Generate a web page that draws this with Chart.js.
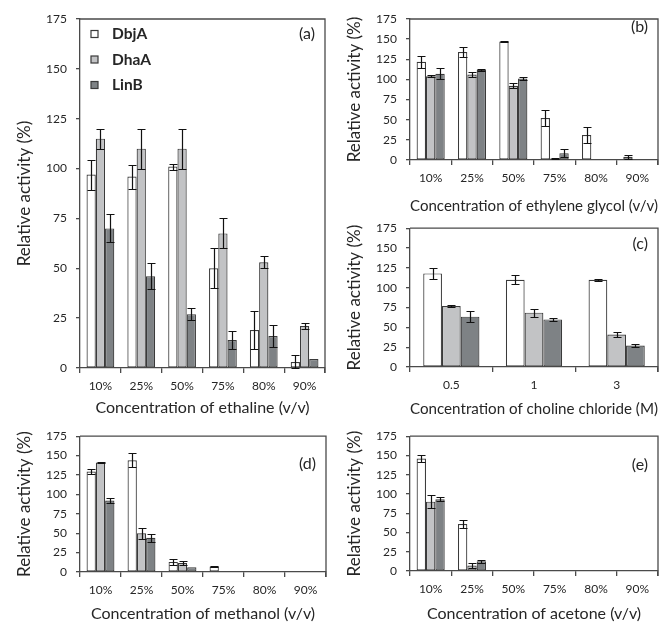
<!DOCTYPE html>
<html>
<head>
<meta charset="utf-8">
<script src="https://cdn.jsdelivr.net/npm/chart.js@4.4.1/dist/chart.umd.min.js"></script>
<style>
  body { margin: 0; background: #fff; width: 670px; height: 623px; position: relative; overflow: hidden; }
  canvas { position: absolute; }
</style>
</head>
<body>
<canvas id="chartA" width="335" height="420" style="left:0;top:0"></canvas>
<canvas id="chartB" width="340" height="218" style="left:330px;top:0"></canvas>
<canvas id="chartC" width="340" height="208" style="left:330px;top:212px"></canvas>
<canvas id="chartD" width="335" height="203" style="left:0;top:420px"></canvas>
<canvas id="chartE" width="340" height="203" style="left:330px;top:420px"></canvas>
<script>
// categories
const percentGroups = ['10%', '25%', '50%', '75%', '80%', '90%'];
const cholineGroups = ['0.5', '1', '3'];
const enzymes = ['DbjA', 'DhaA', 'LinB'];
const yTicks = [0, 25, 50, 75, 100, 125, 150, 175];

// (a) ethaline
const ethalineDbjA = [97, 96, 101, 50, 19, 3];
const ethalineDbjAErr = [7.5, 6, 1.5, 10, 9.5, 3.5];
const ethalineDhaA = [115, 110, 110, 67.5, 53, 21];
const ethalineDhaAErr = [5, 10, 10, 7.5, 3, 1.5];
const ethalineLinB = [70, 46, 27, 14, 16, 4.5];
const ethalineLinBErr = [7, 6.5, 3, 4.5, 5.5, 0];

// (b) ethylene glycol
const glycolDbjA = [122, 134, 147, 52, 31, 4];
const glycolDbjAErr = [7.5, 6.5, 1, 10, 9.5, 2.5];
const glycolDhaA = [104, 106, 92, 2, 0, 0];
const glycolDhaAErr = [1.5, 3.5, 3, 1, 0, 0];
const glycolLinB = [107, 112, 101, 8.5, 0, 0];
const glycolLinBErr = [7, 1.5, 1.5, 5, 0, 0];

// (c) choline chloride
const cholineDbjA = [118, 110, 110];
const cholineDbjAErr = [7, 5.5, 1];
const cholineDhaA = [77, 68.5, 41];
const cholineDhaAErr = [1.5, 5, 3.5];
const cholineLinB = [63.5, 60, 27];
const cholineLinBErr = [7, 1.5, 1.5];

// (d) methanol
const methanolDbjA = [129.5, 144, 13, 7, 0, 0];
const methanolDbjAErr = [3, 9, 4, 1, 0, 0];
const methanolDhaA = [141, 50, 11.5, 0, 0, 0];
const methanolDhaAErr = [1, 7, 3, 0, 0, 0];
const methanolLinB = [92, 44, 6, 0, 0, 0];
const methanolLinBErr = [3, 5, 0, 0, 0, 0];

// (e) acetone
const acetoneDbjA = [146, 61, 0, 0, 0, 0];
const acetoneDbjAErr = [4, 5.5, 0, 0, 0, 0];
const acetoneDhaA = [90, 7, 0, 0, 0, 0];
const acetoneDhaAErr = [8.5, 3.5, 0, 0, 0, 0];
const acetoneLinB = [93, 12.5, 0, 0, 0, 0];
const acetoneLinBErr = [2.5, 1.5, 0, 0, 0, 0];

const FONT = 'Lato, "Open Sans", sans-serif';
const fills = ['#ffffff', '#c2c3c5', '#7e8285'];
const edge = '#3a3a3a';
const axisColor = '#4a4a4a';
const textColor = '#262626';

const errorBars = {
    id: 'errorBars',
    afterDatasetsDraw(chart) {
        const ctx = chart.ctx;
        const y = chart.scales.y;
        ctx.save();
        ctx.strokeStyle = '#111';
        ctx.lineWidth = 1.2;
        chart.data.datasets.forEach((ds, i) => {
            const meta = chart.getDatasetMeta(i);
            meta.data.forEach((bar, j) => {
                const e = ds.errors[j];
                if (!e) return;
                const v = ds.data[j];
                const top = Math.round(y.getPixelForValue(v + e)) + 0.5;
                const bot = Math.round(y.getPixelForValue(Math.max(0, v - e))) + 0.5;
                const x = Math.round(bar.x) + 0.5;
                ctx.beginPath();
                ctx.moveTo(x, top); ctx.lineTo(x, bot);
                ctx.moveTo(x - 4, top); ctx.lineTo(x + 4, top);
                ctx.moveTo(x - 4, bot); ctx.lineTo(x + 4, bot);
                ctx.stroke();
            });
        });
        ctx.restore();
    }
};

// top and right edges of the plot box
const frame = {
    id: 'frame',
    afterDraw(chart) {
        const { ctx, chartArea: a } = chart;
        ctx.save();
        ctx.strokeStyle = axisColor;
        ctx.lineWidth = 1.3;
        ctx.beginPath();
        ctx.moveTo(a.left, a.top); ctx.lineTo(a.right, a.top); ctx.lineTo(a.right, a.bottom + 5);
        ctx.stroke();
        ctx.restore();
    }
};

// panel letter, plus the legend inside panel (a)
const panelTag = {
    id: 'panelTag',
    afterDraw(chart, args, opts) {
        const { ctx, chartArea: a } = chart;
        ctx.save();
        ctx.font = '16px ' + FONT;
        ctx.fillStyle = textColor;
        ctx.textAlign = 'right';
        ctx.textBaseline = 'middle';
        ctx.fillText(opts.text, a.right - 10, a.top + opts.dy);
        if (opts.legend) {
            chart.data.datasets.forEach((ds, i) => {
                const cy = a.top + 15 + i * 25.5;
                ctx.fillStyle = ds.backgroundColor;
                ctx.fillRect(a.left + 11, cy - 3.5, 7, 7);
                ctx.strokeStyle = edge;
                ctx.lineWidth = 1.2;
                ctx.strokeRect(a.left + 11, cy - 3.5, 7, 7);
                ctx.fillStyle = textColor;
                ctx.textAlign = 'left';
                ctx.font = 'bold 15.5px ' + FONT;
                ctx.fillText(ds.label, a.left + 32, cy);
            });
        }
        ctx.restore();
    }
};

function makeChart(id, labels, values, errors, opts) {
    const datasets = enzymes.map((name, i) => ({
        label: name,
        data: values[i],
        errors: errors[i],
        backgroundColor: fills[i],
        borderColor: edge,
        borderWidth: 1.2,
        borderSkipped: false,
        categoryPercentage: 0.68,
        barPercentage: 1
    }));
    return new Chart(document.getElementById(id), {
        type: 'bar',
        data: { labels, datasets },
        plugins: [errorBars, frame, panelTag],
        options: {
            responsive: false,
            animation: false,
            devicePixelRatio: 1,
            layout: { padding: { top: opts.top, right: opts.right, left: 0, bottom: 0 } },
            plugins: {
                legend: { display: false },
                tooltip: { enabled: false },
                panelTag: { text: opts.tag, dy: opts.tagDy, legend: !!opts.legend }
            },
            scales: {
                x: {
                    grid: { display: true, drawOnChartArea: false, offset: true, tickLength: 5, color: axisColor, lineWidth: 1.3 },
                    border: { color: axisColor, width: 1.3 },
                    ticks: { color: textColor, font: { family: FONT, size: 12 }, padding: 6, maxRotation: 0 },
                    title: { display: true, text: opts.xTitle, color: textColor, font: { family: FONT, size: 16 }, padding: { top: 0, bottom: opts.titlePad } },
                    afterFit: s => { s.height = opts.xHeight; }
                },
                y: {
                    min: 0,
                    max: 175,
                    afterBuildTicks: s => { s.ticks = yTicks.map(v => ({ value: v })); },
                    grid: { display: true, drawOnChartArea: false, tickLength: 4, color: axisColor, lineWidth: 1.3 },
                    border: { color: axisColor, width: 1.3 },
                    ticks: { color: textColor, font: { family: FONT, size: 12 }, padding: 9 },
                    title: { display: true, text: 'Relative activity (%)', color: textColor, font: { family: FONT, size: 17 }, padding: { top: 14, bottom: 0 } },
                    afterFit: s => { s.width = 80; }
                }
            }
        }
    });
}

makeChart('chartA', percentGroups,
    [ethalineDbjA, ethalineDhaA, ethalineLinB],
    [ethalineDbjAErr, ethalineDhaAErr, ethalineLinBErr],
    { top: 19, right: 10, xHeight: 52, titlePad: 2.4, tag: '(a)', tagDy: 15, legend: true, xTitle: 'Concentration of ethaline (v/v)' });

makeChart('chartB', percentGroups,
    [glycolDbjA, glycolDhaA, glycolLinB],
    [glycolDbjAErr, glycolDhaAErr, glycolLinBErr],
    { top: 19, right: 12, xHeight: 58, titlePad: 2.4, tag: '(b)', tagDy: 8, xTitle: 'Concentration of ethylene glycol (v/v)' });

makeChart('chartC', cholineGroups,
    [cholineDbjA, cholineDhaA, cholineLinB],
    [cholineDbjAErr, cholineDhaAErr, cholineLinBErr],
    { top: 14, right: 12, xHeight: 53, titlePad: 1.4, tag: '(c)', tagDy: 16, xTitle: 'Concentration of choline chloride (M)' });

makeChart('chartD', percentGroups,
    [methanolDbjA, methanolDhaA, methanolLinB],
    [methanolDbjAErr, methanolDhaAErr, methanolLinBErr],
    { top: 14, right: 9, xHeight: 51, titlePad: 0, tag: '(d)', tagDy: 28, xTitle: 'Concentration of methanol (v/v)' });

makeChart('chartE', percentGroups,
    [acetoneDbjA, acetoneDhaA, acetoneLinB],
    [acetoneDbjAErr, acetoneDhaAErr, acetoneLinBErr],
    { top: 13, right: 12, xHeight: 52, titlePad: 0, tag: '(e)', tagDy: 29, xTitle: 'Concentration of acetone (v/v)' });
</script>
</body>
</html>
